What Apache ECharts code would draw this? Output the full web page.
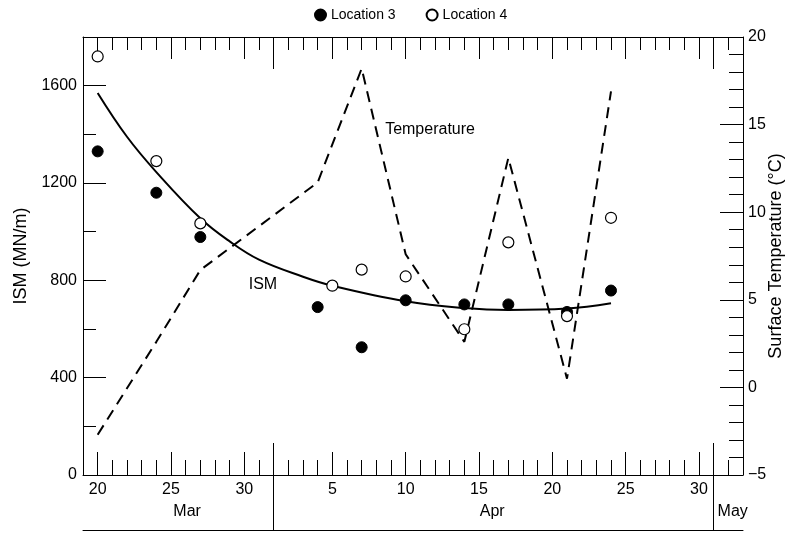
<!DOCTYPE html>
<html>
<head>
<meta charset="utf-8">
<script src="https://cdn.jsdelivr.net/npm/echarts@6/dist/echarts.min.js"></script>
<style>
  html, body { margin: 0; padding: 0; background: #fff; }
  #chart { width: 797px; height: 533px; }
</style>
</head>
<body>
<div id="chart"></div>
<script>
// x is counted in days from 20 Mar (day 0); dates are 'MM-DD'
const loc3Dates = ['03-20', '03-24', '03-27', '04-04', '04-07', '04-10', '04-14', '04-17', '04-21', '04-24'];
const loc3Ism   = [1330, 1160, 978, 690, 525, 718, 701, 701, 670, 758];
const loc4Dates = ['03-20', '03-24', '03-27', '04-05', '04-07', '04-10', '04-14', '04-17', '04-21', '04-24'];
const loc4Ism   = [1720, 1290, 1034, 778, 844, 816, 599, 956, 653, 1057];

// fitted ISM curve
const fitDates = ['03-20', '03-22', '03-24', '03-27', '03-29', '03-31', '04-03', '04-05', '04-10', '04-14', '04-17', '04-21', '04-24'];
const fitIsm   = [1570, 1390, 1245, 1055, 960, 885, 815, 778, 714, 686, 678, 684, 706];

// surface temperature (°C)
const tempDates  = ['03-20', '03-24', '03-27', '04-04', '04-07', '04-10', '04-14', '04-17', '04-21', '04-24'];
const tempValues = [-2.7, 2.6, 6.7, 11.7, 18.2, 7.6, 2.6, 13.1, 0.5, 16.9];

const dayLabelDates = ['03-20', '03-25', '03-30', '04-05', '04-10', '04-15', '04-20', '04-25', '04-30'];
const monthStarts   = ['04-01', '05-01'];
const monthNames    = ['Mar', 'Apr', 'May'];
const ismTicks      = [0, 400, 800, 1200, 1600];
const ismMinorTicks = [200, 600, 1000, 1400];

const DAY0 = Date.UTC(2000, 2, 20);
const dayOf = (md) => {
  const [m, d] = md.split('-').map(Number);
  return Math.round((Date.UTC(2000, m - 1, d) - DAY0) / 86400000);
};
const dayOfMonth = (v) => new Date(DAY0 + Math.round(v) * 86400000).getUTCDate();
const pairs = (dates, vals) => dates.map((d, i) => [dayOf(d), vals[i]]);

const X_MIN = -1, X_MAX = 44;
const allDays = [];
for (let d = 0; d < X_MAX; d++) allDays.push(d);
const labelDays = dayLabelDates.map(dayOf);
const boundaryDays = monthStarts.map(dayOf);
const monthLabelAt = [6.1, 26.9, 43.3]; // label placement (layout, not data)

const FONT = '"Liberation Sans", Arial, Helvetica, sans-serif';
const BLACK = '#000';

function xAx(extra) {
  return Object.assign({
    type: 'value', min: X_MIN, max: X_MAX, position: 'bottom',
    splitLine: { show: false },
    axisLine: { show: false, onZero: false },
    axisTick: { show: false },
    axisLabel: { show: false },
  }, extra);
}
function tick(values, len, inside) {
  return { show: true, customValues: values, inside: inside, length: len, lineStyle: { color: BLACK, width: 1 } };
}

const chart = echarts.init(document.getElementById('chart'), null, { renderer: 'canvas' });

chart.setOption({
  animation: false,
  backgroundColor: '#fff',
  textStyle: { fontFamily: FONT, color: BLACK },
  grid: { left: 83, right: 54, top: 37, bottom: 58, outerBoundsMode: 'none', containLabel: false },
  legend: {
    top: 3, left: 309,
    data: ['Location 3', 'Location 4'],
    itemWidth: 11, itemHeight: 11, itemGap: 30,
    textStyle: { fontSize: 14, color: BLACK, fontFamily: FONT },
  },
  xAxis: [
    // bottom: main line, day ticks, day labels
    xAx({
      axisLine: { show: true, onZero: false, lineStyle: { color: BLACK, width: 1 } },
      axisTick: tick(allDays, 15, true),
      axisLabel: {
        show: true, customValues: labelDays, margin: 7, fontSize: 16, color: BLACK,
        formatter: (v) => String(dayOfMonth(v)),
      },
    }),
    xAx({ axisTick: tick(labelDays, 23, true) }),
    xAx({ axisTick: tick(boundaryDays, 32, true) }),
    // month separators below the axis and month names
    xAx({
      axisTick: tick(boundaryDays, 55, false),
      axisLabel: {
        show: true, customValues: monthLabelAt, margin: 29, fontSize: 16, color: BLACK,
        formatter: (v) => monthNames[monthLabelAt.indexOf(v)] || '',
      },
    }),
    xAx({ offset: 55, axisLine: { show: true, onZero: false, lineStyle: { color: BLACK, width: 1 } } }),
    // top frame
    xAx({
      position: 'top',
      axisLine: { show: true, onZero: false, lineStyle: { color: BLACK, width: 1 } },
      axisTick: tick(allDays, 13, true),
    }),
    xAx({ position: 'top', axisTick: tick(labelDays, 22, true) }),
    xAx({ position: 'top', axisTick: tick(boundaryDays, 32, true) }),
  ],
  yAxis: [
    {
      type: 'value', position: 'left', min: 0, max: 1800,
      name: 'ISM (MN/m)', nameLocation: 'middle', nameRotate: 90, nameGap: 51,
      nameTextStyle: { fontSize: 18, color: BLACK, fontFamily: FONT },
      splitLine: { show: false },
      axisLine: { show: true, onZero: false, lineStyle: { color: BLACK, width: 1 } },
      axisTick: tick(ismTicks, 23, true),
      axisLabel: { customValues: ismTicks, margin: 6, fontSize: 16, color: BLACK, formatter: (v) => String(v) },
    },
    {
      type: 'value', position: 'right', min: -5, max: 20, interval: 5,
      name: 'Surface Temperature (°C)', nameLocation: 'middle', nameRotate: 90, nameGap: 24,
      nameMoveOverlap: false,
      nameTextStyle: { fontSize: 18, color: BLACK, fontFamily: FONT },
      splitLine: { show: false },
      axisLine: { show: true, onZero: false, lineStyle: { color: BLACK, width: 1 } },
      axisTick: { show: true, inside: true, length: 23, lineStyle: { color: BLACK, width: 1 } },
      minorTick: { show: true, splitNumber: 5, length: 14, lineStyle: { color: BLACK, width: 1 } },
      axisLabel: { margin: 5, fontSize: 16, color: BLACK, formatter: (v) => String(v).replace('-', '\u2212') },
    },
    {
      type: 'value', position: 'left', min: 0, max: 1800,
      splitLine: { show: false },
      axisLine: { show: false, onZero: false },
      axisTick: tick(ismMinorTicks, 13, true),
      axisLabel: { show: false },
    },
  ],
  series: [
    {
      name: 'ISM', type: 'line', xAxisIndex: 0, yAxisIndex: 0,
      data: pairs(fitDates, fitIsm), smooth: 0.4, showSymbol: false, symbol: 'none',
      lineStyle: { color: BLACK, width: 2 }, z: 2,
      markPoint: {
        symbol: 'circle', symbolSize: 0, silent: true,
        data: [{ coord: [10.3, 784], label: { show: true, position: 'right', distance: 0, formatter: 'ISM', fontSize: 16, color: BLACK } }],
      },
    },
    {
      name: 'Temperature', type: 'line', xAxisIndex: 0, yAxisIndex: 1,
      data: pairs(tempDates, tempValues), showSymbol: false, symbol: 'none',
      lineStyle: { color: BLACK, width: 2, type: [11, 7] }, z: 2,
      markPoint: {
        symbol: 'circle', symbolSize: 0, silent: true,
        data: [{ coord: [19.6, 14.7], label: { show: true, position: 'right', distance: 0, formatter: 'Temperature', fontSize: 16, color: BLACK } }],
      },
    },
    {
      name: 'Location 3', type: 'scatter', xAxisIndex: 0, yAxisIndex: 0,
      data: pairs(loc3Dates, loc3Ism), symbol: 'circle', symbolSize: 11,
      itemStyle: { color: BLACK, borderColor: BLACK, borderWidth: 1, opacity: 1 }, z: 4,
    },
    {
      name: 'Location 4', type: 'scatter', xAxisIndex: 0, yAxisIndex: 0,
      data: pairs(loc4Dates, loc4Ism), symbol: 'circle', symbolSize: 11,
      itemStyle: { color: '#fff', borderColor: BLACK, borderWidth: 1.2, opacity: 1 }, z: 4,
    },
  ],
});
</script>
</body>
</html>
